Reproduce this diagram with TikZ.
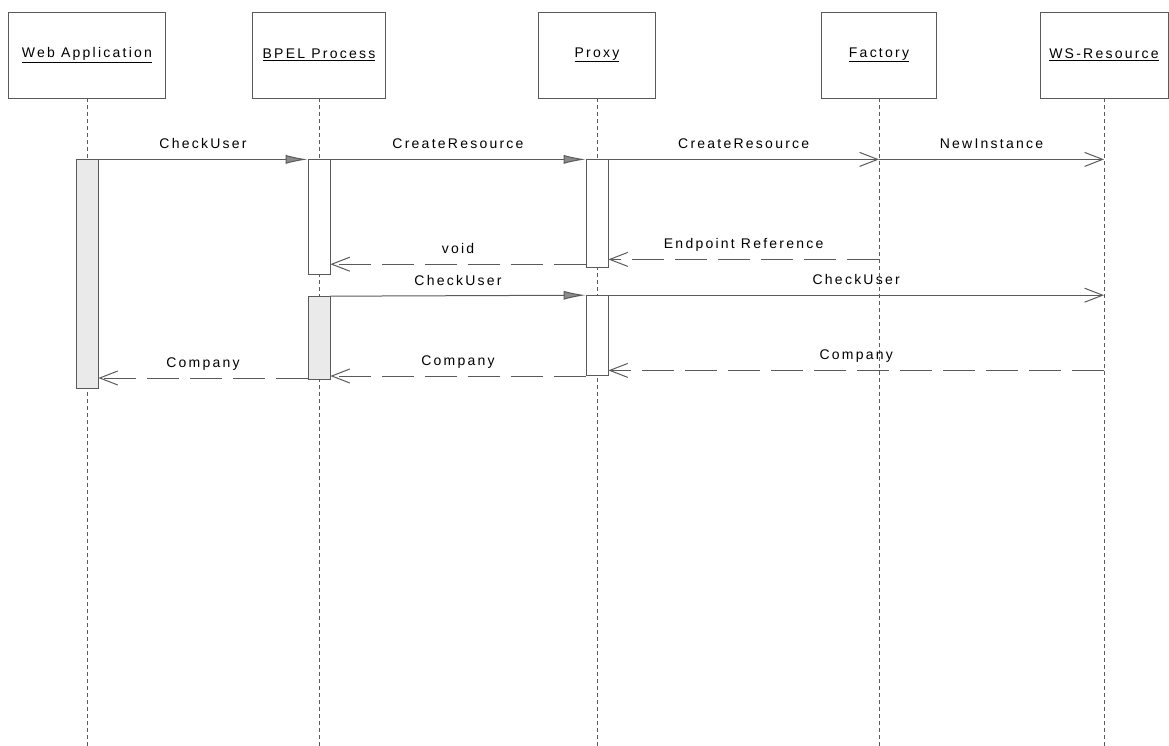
\documentclass[tikz,border=0pt]{standalone}
\usepackage{fontspec}
\setmainfont{Liberation Sans}[LetterSpace=16]
\usetikzlibrary{positioning,arrows.meta}
\definecolor{ink}{HTML}{5A5A5A}
\definecolor{shade}{HTML}{EAEAEA}
\tikzset{obj/.style={draw=ink,fill=white,line width=.8pt,minimum height=86pt,font=\fontsize{14}{16}\selectfont},act/.style={draw=ink,fill=white,line width=.8pt,minimum width=22pt,inner sep=0pt},lifeline/.style={draw=ink,line width=.8pt,dash pattern=on 4pt off 3pt},call/.style={draw=ink,line width=1pt,-{Latex[length=22pt,width=9pt,fill=ink!70]}},send/.style={draw=ink,line width=1pt,-{Straight Barb[length=18pt,width=14pt]}},reply/.style={send,dash pattern=on 32pt off 11pt},msg/.style={above=5pt,font=\fontsize{14}{16}\selectfont,text height=10pt,text depth=3pt,inner sep=2pt}}
\begin{document}
\begin{tikzpicture}[x=1pt,y=-1pt]
\useasboundingbox (0,0) rectangle (1169,746);
\node[obj,minimum width=157pt] (wa) at (87,55) {\underline{Web Application}};
\node[obj,minimum width=133pt] (bp) at (319,55) {\underline{BPEL Process}};
\node[obj,minimum width=117pt] (px) at (597,55) {\underline{Proxy}};
\node[obj,minimum width=115pt] (fc) at (879,55) {\underline{Factory}};
\node[obj,minimum width=128pt] (ws) at (1104,55) {\underline{WS-Resource}};
\coordinate (bottom) at (0,746);
\foreach \o in {wa,bp,px,fc,ws}\draw[lifeline] (\o.south) -- (\o.south |- bottom);
% activations
\node[act,fill=shade,minimum height=229pt,below=61pt of wa] (wa1) {};
\node[act,minimum height=115pt,below=61pt of bp] (bp1) {};
\node[act,fill=shade,minimum height=83pt,below=21pt of bp1] (bp2) {};
\node[act,minimum height=108pt,below=61pt of px] (px1) {};
\node[act,minimum height=80pt,below=27pt of px1] (px2) {};
% helper points on the lifelines
\coordinate (fc1) at (px1.north east -| fc.south);
\coordinate (ws1) at (px1.north east -| ws.south);
\path (fc.south) ++(0,161) coordinate (fc2);
\coordinate (v1) at ([yshift=4pt]px1.south west);
\coordinate (ws2) at (px2.north east -| ws.south);
\path (ws.south) ++(0,272) coordinate (ws3);
\coordinate (c11) at ([yshift=2pt]bp2.south west);
% messages
\draw[call] (wa1.north east) -- node[msg] {CheckUser} (bp1.north west);
\draw[call] (bp1.north east) -- node[msg] {CreateResource} (px1.north west);
\draw[send] (px1.north east) -- node[msg] {CreateResource} (fc1);
\draw[send] (fc1) -- node[msg] {NewInstance} (ws1);
\draw[reply] (fc2) -- node[msg] {Endpoint Reference} (fc2 -| px1.east);
\draw[reply] (v1) -- node[msg] {void} (v1 -| bp1.east);
\draw[call] (bp2.north east) -- node[msg] {CheckUser} (px2.north west);
\draw[send] (px2.north east) -- node[msg] {CheckUser} (ws2);
\draw[reply] (ws3) -- node[msg] {Company} (ws3 -| px2.east);
\draw[reply] (px2.south west) -- node[msg] {Company} (px2.south west -| bp2.east);
\draw[reply] (c11) -- node[msg] {Company} (c11 -| wa1.east);
\end{tikzpicture}
\end{document}
